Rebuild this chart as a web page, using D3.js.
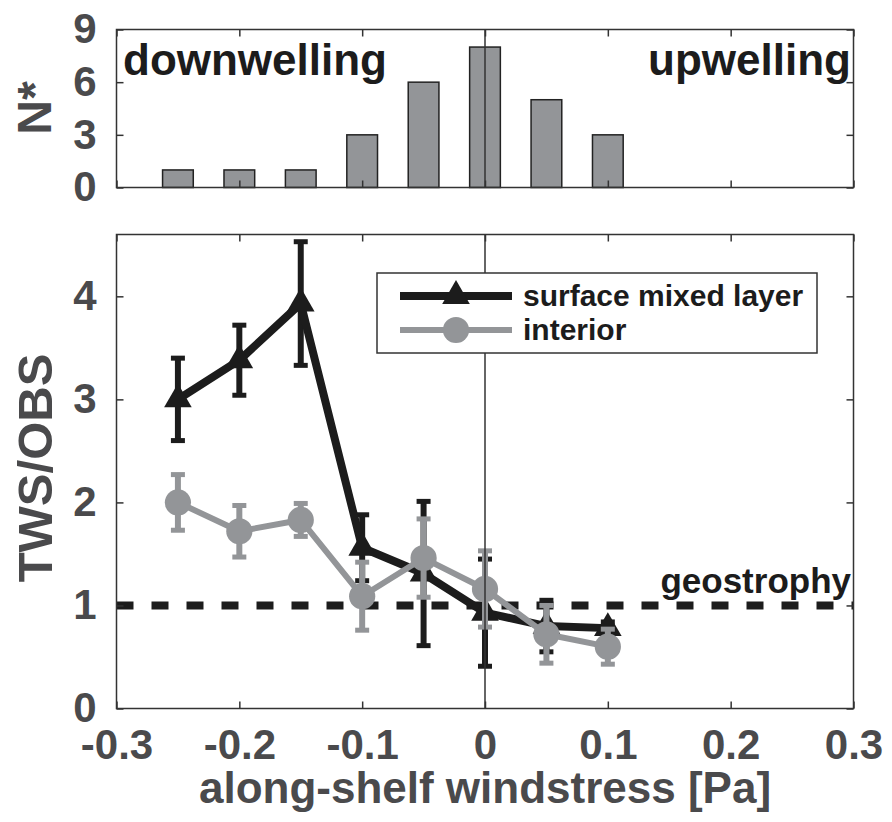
<!DOCTYPE html>
<html>
<head>
<meta charset="utf-8">
<script src="https://cdn.jsdelivr.net/npm/d3@7"></script>
<style>
  html, body { margin: 0; padding: 0; background: #fff; }
  svg { display: block; font-family: "Liberation Sans", Arial, Helvetica, sans-serif; font-weight: bold; }
</style>
</head>
<body>
<svg id="chart" width="892" height="822"></svg>
<script>
// Wind-stress bins [Pa]
const windBins = [-0.25, -0.2, -0.15, -0.1, -0.05, 0, 0.05, 0.1];
// Number of cases per bin (top panel)
const counts = [1, 1, 1, 3, 6, 8, 5, 3];
// TWS/OBS ratio, surface mixed layer: mean and error half-width
const smlMean = [3.0, 3.38, 3.93, 1.56, 1.31, 0.93, 0.8, 0.78];
const smlErr  = [0.4, 0.34, 0.6, 0.32, 0.7, 0.52, 0.25, 0.06];
// TWS/OBS ratio, interior: mean and error half-width
const intMean = [2.0, 1.72, 1.83, 1.09, 1.46, 1.16, 0.72, 0.6];
const intErr  = [0.27, 0.25, 0.16, 0.33, 0.38, 0.37, 0.28, 0.17];
// Tick values
const xTicks = [-0.3, -0.2, -0.1, 0, 0.1, 0.2, 0.3];
const nTicks = [0, 3, 6, 9];
const rTicks = [0, 1, 2, 3, 4];
const geostrophy = 1;

const svg = d3.select("#chart");
const black = "#1c1c1c", grey = "#939598", axisCol = "#333", labelCol = "#4a4a4c";
const plain = d => String(d);   // plain hyphen-minus, no trailing zeros

const x = d3.scaleLinear().domain([-0.3, 0.3]).range([116.5, 853.5]);
const yTop = d3.scaleLinear().domain([0, 9]).range([187.5, 29.5]);
const yBot = d3.scaleLinear().domain([0, 4.6]).range([708.5, 234.5]);

function frameAxes(g, y, yTicks, showX) {
  const [x0, x1] = x.range();
  const [yb, yt] = y.range();
  const axBottom = d3.axisBottom(x).tickValues(xTicks).tickSizeInner(-7).tickSizeOuter(0).tickPadding(21)
    .tickFormat(showX ? plain : () => "");
  const axTop = d3.axisTop(x).tickValues(xTicks).tickSizeInner(-7).tickSizeOuter(0).tickFormat(() => "");
  const axLeft = d3.axisLeft(y).tickValues(yTicks).tickSizeInner(-7).tickSizeOuter(0).tickPadding(20)
    .tickFormat(plain);
  const axRight = d3.axisRight(y).tickValues(yTicks).tickSizeInner(-7).tickSizeOuter(0).tickFormat(() => "");
  const ax = [
    g.append("g").attr("transform", `translate(0,${yb})`).call(axBottom),
    g.append("g").attr("transform", `translate(0,${yt})`).call(axTop),
    g.append("g").attr("transform", `translate(${x0},0)`).call(axLeft),
    g.append("g").attr("transform", `translate(${x1},0)`).call(axRight)
  ];
  ax.forEach(a => {
    a.select(".domain").remove();
    a.selectAll(".tick line").attr("stroke", axisCol).attr("stroke-width", 1.5);
    a.selectAll(".tick text").attr("fill", labelCol).attr("font-size", 42)
      .attr("font-family", "'Liberation Sans', Arial, sans-serif").attr("font-weight", "bold");
  });
  g.append("rect").attr("x", x0).attr("y", yt).attr("width", x1 - x0).attr("height", yb - yt)
    .attr("fill", "none").attr("stroke", axisCol).attr("stroke-width", 1.5);
}

// ---- Upper panel: histogram of cases ----
const histPanel = svg.append("g");
const barW = x(0.0125) - x(-0.0125);
histPanel.selectAll("rect.bar").data(windBins).join("rect").attr("class", "bar")
  .attr("x", (d) => x(d) - barW / 2)
  .attr("y", (d, i) => yTop(counts[i]))
  .attr("width", barW)
  .attr("height", (d, i) => yTop(0) - yTop(counts[i]))
  .attr("fill", grey).attr("stroke", "#222").attr("stroke-width", 1.5);
histPanel.append("line").attr("x1", x(0)).attr("x2", x(0)).attr("y1", yTop(9)).attr("y2", yTop(0))
  .attr("stroke", axisCol).attr("stroke-width", 1.5);
frameAxes(histPanel, yTop, nTicks, false);
histPanel.append("text").attr("x", 123).attr("y", 75).attr("font-size", 44).attr("fill", black).text("downwelling");
histPanel.append("text").attr("x", 851).attr("y", 75).attr("font-size", 44).attr("fill", black)
  .attr("text-anchor", "end").text("upwelling");
histPanel.append("text").attr("transform", "translate(51,108) rotate(-90)").attr("text-anchor", "middle")
  .attr("font-size", 48).attr("fill", labelCol).text("N*");

// ---- Lower panel: TWS/OBS ratio ----
const ratioPanel = svg.append("g");
ratioPanel.append("line").attr("x1", x(-0.3)).attr("x2", x(0.3))
  .attr("y1", yBot(geostrophy)).attr("y2", yBot(geostrophy))
  .attr("stroke", black).attr("stroke-width", 8).attr("stroke-dasharray", "17 18");
ratioPanel.append("text").attr("x", 851).attr("y", 593).attr("text-anchor", "end")
  .attr("font-size", 35).attr("fill", black).text("geostrophy");

function series(means, errs, color, lw, marker) {
  const g = ratioPanel.append("g");
  const pts = windBins.map((w, i) => ({ x: w, m: means[i], e: errs[i] }));
  // error bars
  const eb = g.selectAll("g.eb").data(pts).join("g");
  eb.append("line").attr("x1", d => x(d.x)).attr("x2", d => x(d.x))
    .attr("y1", d => yBot(d.m - d.e)).attr("y2", d => yBot(d.m + d.e))
    .attr("stroke", color).attr("stroke-width", 6);
  [-1, 1].forEach(s => {
    eb.append("line").attr("x1", d => x(d.x) - 7).attr("x2", d => x(d.x) + 7)
      .attr("y1", d => yBot(d.m + s * d.e)).attr("y2", d => yBot(d.m + s * d.e))
      .attr("stroke", color).attr("stroke-width", 5);
  });
  // connecting line
  g.append("path").datum(pts)
    .attr("d", d3.line().x(d => x(d.x)).y(d => yBot(d.m)))
    .attr("fill", "none").attr("stroke", color).attr("stroke-width", lw).attr("stroke-linejoin", "round");
  // markers
  g.selectAll("path.mk").data(pts).join("path").attr("class", "mk")
    .attr("transform", d => `translate(${x(d.x)},${yBot(d.m)})`)
    .attr("d", marker).attr("fill", color);
}
const triangle = d3.symbol(d3.symbolTriangle, 330)();
const circle = d3.symbol(d3.symbolCircle, 540)();
series(smlMean, smlErr, black, 8, triangle);
series(intMean, intErr, grey, 6, circle);

ratioPanel.append("line").attr("x1", x(0)).attr("x2", x(0)).attr("y1", yBot(4.6)).attr("y2", yBot(0))
  .attr("stroke", axisCol).attr("stroke-width", 1.5);
frameAxes(ratioPanel, yBot, rTicks, true);

// legend
const leg = ratioPanel.append("g");
leg.append("rect").attr("x", 377).attr("y", 273).attr("width", 440).attr("height", 80)
  .attr("fill", "#fff").attr("stroke", axisCol).attr("stroke-width", 1.5);
[[black, 8, triangle, "surface mixed layer", 296], [grey, 6, circle, "interior", 330]].forEach(([c, w, m, t, yy]) => {
  leg.append("line").attr("x1", 400).attr("x2", 512).attr("y1", yy).attr("y2", yy)
    .attr("stroke", c).attr("stroke-width", w);
  leg.append("path").attr("transform", `translate(456,${yy})`).attr("d", m).attr("fill", c);
  leg.append("text").attr("x", 523).attr("y", yy + 10).attr("font-size", 30).attr("fill", black).text(t);
});

// axis titles
svg.append("text").attr("transform", "translate(52,468) rotate(-90)").attr("text-anchor", "middle")
  .attr("font-size", 49).attr("fill", labelCol).text("TWS/OBS");
svg.append("text").attr("x", x(0)).attr("y", 803).attr("text-anchor", "middle")
  .attr("font-size", 44).attr("fill", labelCol).text("along-shelf windstress [Pa]");
</script>
</body>
</html>
